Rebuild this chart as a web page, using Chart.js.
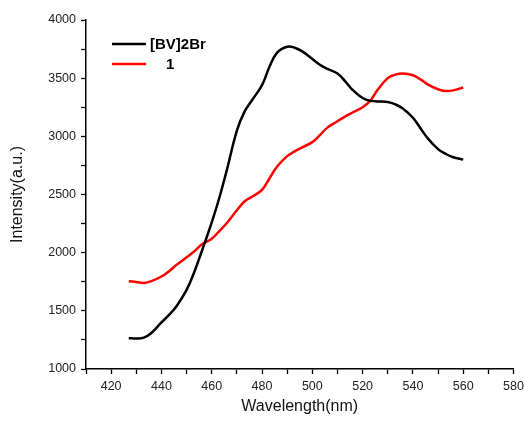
<!DOCTYPE html>
<html>
<head>
<meta charset="utf-8">
<script src="https://cdn.jsdelivr.net/npm/chart.js@4/dist/chart.umd.min.js"></script>
<style>
  html, body { margin: 0; padding: 0; background: #fff; }
  #wrap { width: 524px; height: 421px; position: relative; }
</style>
</head>
<body>
<div id="wrap"><canvas id="c" width="524" height="421"></canvas></div>
<script>
// Wavelength (nm)
const wavelengths = [427, 430, 433, 436, 440, 443, 446, 450, 453, 456, 460, 463, 466, 470, 473, 476, 480, 483, 486, 490, 493, 496, 500, 503, 506, 510, 513, 516, 520, 523, 526, 530, 533, 536, 540, 543, 546, 550, 553, 556, 560];
// [BV]2Br intensity
const bv2brValues = [1265, 1262, 1270, 1310, 1400, 1465, 1540, 1680, 1830, 2010, 2260, 2470, 2710, 3050, 3210, 3310, 3440, 3600, 3720, 3770, 3762, 3730, 3665, 3615, 3580, 3540, 3475, 3400, 3330, 3305, 3300, 3295, 3275, 3240, 3160, 3070, 2980, 2890, 2850, 2820, 2800];
// compound 1 intensity
const comp1Values = [1755, 1748, 1740, 1755, 1795, 1840, 1895, 1960, 2010, 2070, 2120, 2185, 2255, 2365, 2440, 2480, 2540, 2640, 2740, 2830, 2870, 2905, 2950, 3010, 3075, 3130, 3170, 3205, 3250, 3305, 3400, 3500, 3530, 3540, 3525, 3490, 3445, 3405, 3390, 3395, 3420];
const seriesLabels = ['[BV]2Br', '1'];
const xTickLabels = [420, 440, 460, 480, 500, 520, 540, 560, 580];
const yTickLabels = [1000, 1500, 2000, 2500, 3000, 3500, 4000];

const toPts = (vals) => wavelengths.map((w, i) => ({ x: w, y: vals[i] }));

const legendPlugin = {
  id: 'insideLegend',
  afterDraw(chart) {
    const ctx = chart.ctx;
    const ca = chart.chartArea;
    const x0 = ca.left + 26, y0 = ca.top + 24, rowH = 20, lineLen = 34;
    ctx.save();
    ctx.font = 'bold 15px "Liberation Sans", Arial, sans-serif';
    ctx.textBaseline = 'middle';
    chart.data.datasets.forEach((ds, i) => {
      const y = y0 + i * rowH;
      ctx.strokeStyle = ds.borderColor;
      ctx.lineWidth = 2.5;
      ctx.beginPath();
      ctx.moveTo(x0, y);
      ctx.lineTo(x0 + lineLen, y);
      ctx.stroke();
      ctx.fillStyle = '#000';
      const txt = seriesLabels[i];
      const tx = i === 0 ? x0 + lineLen + 4 : x0 + lineLen + 20;
      ctx.fillText(txt, tx, y + 1);
    });
    ctx.restore();
  }
};

const tickFont = { family: '"Liberation Sans", Arial, sans-serif', size: 12.5 };
const titleFont = { family: '"Liberation Sans", Arial, sans-serif', size: 16 };

new Chart(document.getElementById('c'), {
  type: 'line',
  data: {
    datasets: [
      { label: seriesLabels[0], data: toPts(bv2brValues), borderColor: '#000000', backgroundColor: '#000000', borderWidth: 2.5, pointRadius: 0, tension: 0.4, fill: false },
      { label: seriesLabels[1], data: toPts(comp1Values), borderColor: '#ff0000', backgroundColor: '#ff0000', borderWidth: 2.5, pointRadius: 0, tension: 0.4, fill: false }
    ]
  },
  options: {
    responsive: false,
    animation: false,
    devicePixelRatio: 1,
    layout: { padding: { left: 0, top: 20, right: 10.5, bottom: 0 } },
    plugins: { legend: { display: false }, tooltip: { enabled: false } },
    scales: {
      x: {
        type: 'linear',
        min: 410, max: 580,
        afterFit(scale) { scale.height = 52; scale.paddingRight = 0; scale.paddingLeft = 0; },
        ticks: {
          stepSize: 10,
          autoSkip: false,
          maxRotation: 0,
          padding: 5,
          color: '#222',
          font: tickFont,
          callback: (v) => xTickLabels.includes(v) ? String(v) : ''
        },
        grid: { drawOnChartArea: false, drawTicks: true, tickLength: 5, color: '#000', tickWidth: 1.3 },
        border: { display: true, color: '#000', width: 1.5 },
        title: { display: true, text: 'Wavelength(nm)', color: '#111', font: titleFont, padding: { top: 0, bottom: 5 } }
      },
      y: {
        min: 1000, max: 4000,
        afterFit(scale) { scale.width = 86; scale.paddingTop = 0; scale.paddingBottom = 0; },
        ticks: {
          stepSize: 250,
          autoSkip: false,
          padding: 5,
          color: '#222',
          font: tickFont,
          callback: (v) => yTickLabels.includes(v) ? String(v) : ''
        },
        grid: { drawOnChartArea: false, drawTicks: true, tickLength: 5, color: '#000', tickWidth: 1.3 },
        border: { display: true, color: '#000', width: 1.5 },
        title: { display: true, text: 'Intensity(a.u.)', color: '#111', font: titleFont, padding: { top: 8, bottom: 0 } }
      }
    }
  },
  plugins: [legendPlugin]
});
</script>
</body>
</html>
